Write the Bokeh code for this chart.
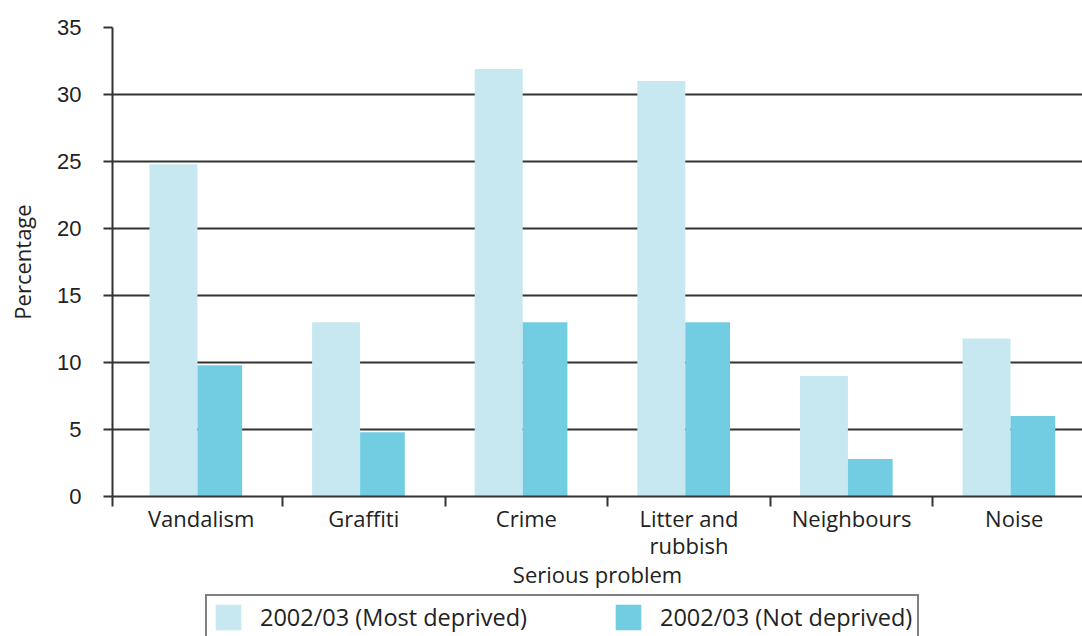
from bokeh.plotting import figure
from bokeh.models import Range1d, FixedTicker, Legend, LegendItem, ColumnDataSource
from bokeh.layouts import column
from bokeh.transform import dodge
from bokeh.embed import file_html
from bokeh.resources import INLINE

categories = ["Vandalism", "Graffiti", "Crime", "Litter and\nrubbish", "Neighbours", "Noise"]
most_deprived = [24.8, 13.0, 31.9, 31.0, 9.0, 11.8]
not_deprived = [9.8, 4.8, 13.0, 13.0, 2.8, 6.0]
y_ticks = [0, 5, 10, 15, 20, 25, 30, 35]
series_names = ["2002/03 (Most deprived)", "2002/03 (Not deprived)"]

LIGHT = "#C7E8F1"
DARK = "#72CDE3"
FONT = "Open Sans"
INK = "#333333"
TXT = "#222222"

n = len(categories)
centers = [i + 0.5 for i in range(n)]
src = ColumnDataSource(dict(x=centers, most=most_deprived, notd=not_deprived))

x_start, x_end = -0.045, 5.92
p = figure(width=1082, height=594, output_backend="svg", toolbar_location=None,
           x_range=Range1d(x_start, x_end), y_range=Range1d(0, 35),
           min_border_left=112, min_border_right=0, min_border_top=27,
           min_border_bottom=98)
p.outline_line_color = None

p.vbar(x=dodge("x", -0.17, range=p.x_range), top="most", width=0.295, source=src,
       fill_color=LIGHT, line_color=None)
p.vbar(x=dodge("x", 0.115, range=p.x_range), top="notd", width=0.275, source=src,
       fill_color=DARK, line_color=None)

# y axis
p.yaxis.ticker = FixedTicker(ticks=y_ticks)
p.yaxis.axis_label = "Percentage"
p.yaxis.axis_label_text_font = FONT
p.yaxis.axis_label_text_font_style = "normal"
p.yaxis.axis_label_text_font_size = "22px"
p.yaxis.axis_label_text_color = TXT
p.yaxis.axis_label_standoff = 17
p.yaxis.major_label_text_font = "Liberation Sans"
p.yaxis.major_label_text_font_size = "22px"
p.yaxis.major_label_text_color = TXT
p.yaxis.major_label_standoff = 22
p.yaxis.major_tick_out = 9
p.yaxis.major_tick_in = 0
p.yaxis.minor_tick_line_color = None
p.yaxis.axis_line_color = INK
p.yaxis.axis_line_width = 2
p.yaxis.major_tick_line_color = INK
p.yaxis.major_tick_line_width = 2

# x axis: labels at centres, separator ticks at category boundaries (minor ticks)
p.xaxis.ticker = FixedTicker(ticks=centers, minor_ticks=[x_start] + list(range(1, n)))
p.xaxis.major_label_overrides = {c: lab for c, lab in zip(centers, categories)}
p.xaxis.major_tick_out = 0
p.xaxis.major_tick_in = 0
p.xaxis.major_tick_line_color = None
p.xaxis.minor_tick_out = 10
p.xaxis.minor_tick_in = 0
p.xaxis.minor_tick_line_color = INK
p.xaxis.minor_tick_line_width = 2
p.xaxis.major_label_text_font = FONT
p.xaxis.major_label_text_font_size = "22px"
p.xaxis.major_label_text_color = TXT
p.xaxis.major_label_text_line_height = 0.9
p.xaxis.major_label_standoff = -4
p.xaxis.axis_line_color = INK
p.xaxis.axis_line_width = 2
p.xaxis.axis_label = "Serious problem"
p.xaxis.axis_label_text_font = FONT
p.xaxis.axis_label_text_font_style = "normal"
p.xaxis.axis_label_text_font_size = "22px"
p.xaxis.axis_label_text_color = TXT
p.xaxis.axis_label_standoff = -4

p.xgrid.grid_line_color = None
p.ygrid.grid_line_color = INK
p.ygrid.grid_line_width = 2

# legend strip below the chart (its frame is aligned with the chart's frame)
lg = figure(width=1082, height=42, output_backend="svg", toolbar_location=None,
            x_range=Range1d(0, 1), y_range=Range1d(0, 1),
            x_axis_location=None, y_axis_location=None,
            min_border_left=0, min_border_right=0, min_border_top=0, min_border_bottom=0)
lg.outline_line_color = None
lg.xgrid.visible = False
lg.ygrid.visible = False
dummy = ColumnDataSource(dict(x=[0.5], top=[0]))
d1 = lg.vbar(x="x", top="top", bottom=0, width=0.01, source=dummy, fill_color=LIGHT, line_color=None)
d2 = lg.vbar(x="x", top="top", bottom=0, width=0.01, source=dummy, fill_color=DARK, line_color=None)

legend = Legend(items=[LegendItem(label=series_names[0], renderers=[d1]),
                       LegendItem(label=series_names[1], renderers=[d2])],
                orientation="horizontal", location=(93, -4))
legend.border_line_color = "black"
legend.border_line_width = 2
legend.padding = 5
legend.margin = 0
legend.spacing = 85
legend.glyph_width = 32
legend.glyph_height = 32
legend.label_standoff = 16
legend.label_text_font = FONT
legend.label_text_font_size = "23.5px"
legend.label_text_color = TXT
legend.label_height = 32
lg.add_layout(legend, "center")

layout = column(p, lg, spacing=0)
open("out.html", "w").write(file_html(layout, INLINE))
